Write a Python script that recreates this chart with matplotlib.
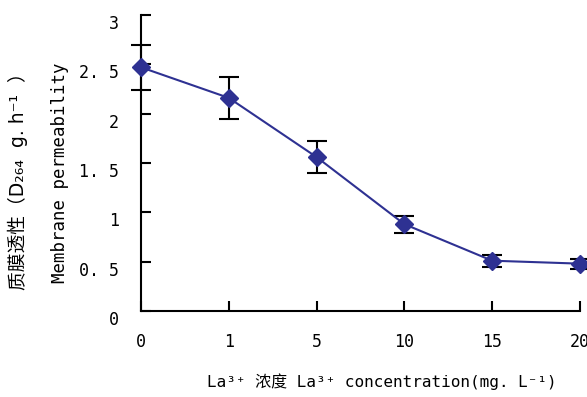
import matplotlib.pyplot as plt
import matplotlib.transforms as mtransforms

conc = ['0', '1', '5', '10', '15', '20']
perm = [2.47, 2.16, 1.56, 0.88, 0.51, 0.48]
err = [0.23, 0.21, 0.16, 0.085, 0.06, 0.05]
yticks = [0, 0.5, 1, 1.5, 2, 2.5, 3]
ytick_labels = ['0', '0. 5', '1', '1. 5', '2', '2. 5', '3']

fonts = ['DejaVu Sans Mono', 'Noto Sans CJK SC', 'DejaVu Sans']
plt.rcParams['font.family'] = fonts

fig = plt.figure(figsize=(5.87, 3.97), dpi=100)
ax = fig.add_axes([0.2402, 0.2166, 0.988 - 0.2402, 0.9622 - 0.2166])

xs = list(range(len(conc)))
ax.errorbar(xs, perm, yerr=err, fmt='none', ecolor='black', elinewidth=1.5,
            capsize=7, capthick=1.5, clip_on=False, zorder=2)
ax.plot(xs, perm, color='#2E3192', lw=1.5, marker='D', markersize=9,
        markerfacecolor='#2E3192', markeredgecolor='#2E3192', clip_on=False, zorder=3)

ax.set_xlim(0, 5)
ax.set_ylim(0, 3)
ax.set_xticks(xs)
ax.set_xticklabels(conc)
ax.set_yticks(yticks)
ax.set_yticklabels(ytick_labels)

for s in ['top', 'right']:
    ax.spines[s].set_visible(False)
for s in ['left', 'bottom']:
    ax.spines[s].set_linewidth(1.5)

ax.tick_params(axis='both', direction='in', length=7, width=1.5, labelsize=12)
ax.tick_params(axis='y', pad=16)
ax.tick_params(axis='x', pad=16)

off = mtransforms.ScaledTranslation(0, -7 / 100, fig.dpi_scale_trans)
for lab in ax.get_yticklabels():
    lab.set_transform(lab.get_transform() + off)

fig.text(0.031, 0.555, '质膜透性（D₂₆₄  g. h⁻¹  ）', rotation=90, ha='center', va='center',
         fontsize=13.5, family=['DejaVu Sans', 'Noto Sans CJK SC'])
fig.text(0.102, 0.565, 'Membrane permeability', rotation=90, ha='center', va='center',
         fontsize=12.5)
fig.text(0.65, 0.038, 'La³⁺ 浓度 La³⁺ concentration(mg. L⁻¹)', ha='center', va='center',
         fontsize=11.5)

fig.savefig('out.png', dpi=100)
